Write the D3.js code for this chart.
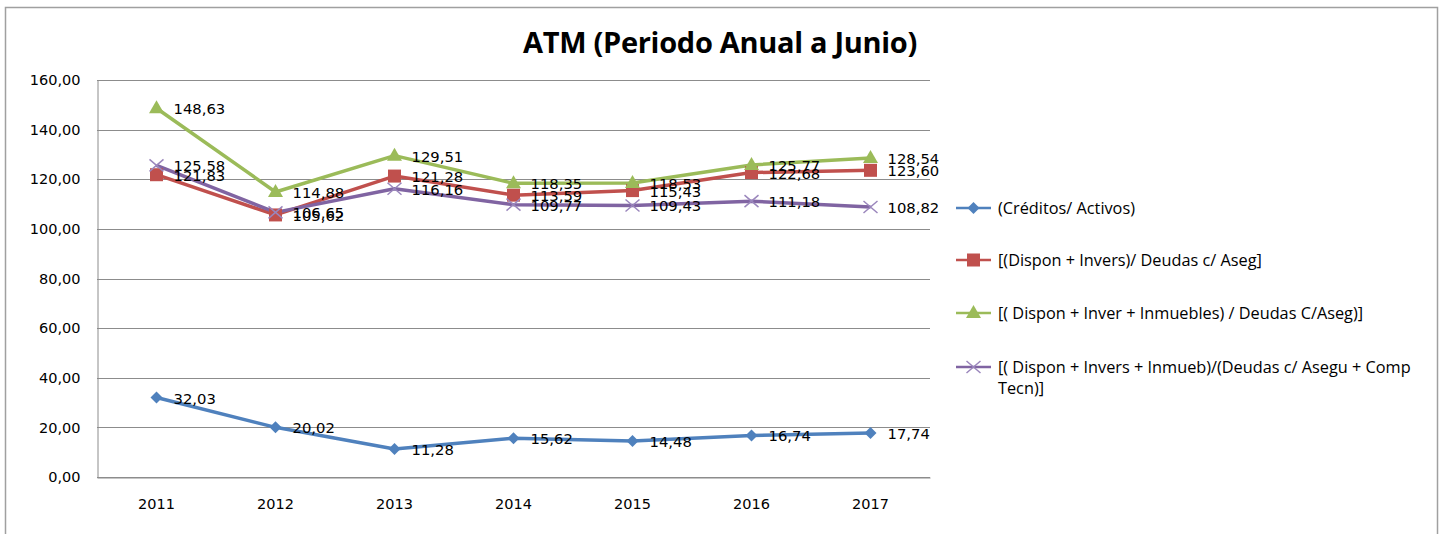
<!DOCTYPE html>
<html><head><meta charset="utf-8">
<script src="https://cdn.jsdelivr.net/npm/d3@7"></script>
<style>body{margin:0;background:#fff}</style>
</head><body>
<svg id="c" width="1447" height="534"></svg>
<script>
const years = ["2011","2012","2013","2014","2015","2016","2017"];
const creditos = [32.03, 20.02, 11.28, 15.62, 14.48, 16.74, 17.74];
const disponInvers = [121.83, 105.62, 121.28, 113.59, 115.43, 122.68, 123.60];
const disponInmuebles = [148.63, 114.88, 129.51, 118.35, 118.53, 125.77, 128.54];
const disponComp = [125.58, 106.65, 116.16, 109.77, 109.43, 111.18, 108.82];
const yTicks = [0,20,40,60,80,100,120,140,160];
const seriesNames = ["(Créditos/ Activos)", "[(Dispon + Invers)/ Deudas c/ Aseg]", "[( Dispon + Inver + Inmuebles) / Deudas C/Aseg)]", "[( Dispon + Invers + Inmueb)/(Deudas c/ Asegu + Comp|Tecn)]"];

const series = [
  {name: seriesNames[0], values: creditos, color:"#4F81BD", marker:"diamond"},
  {name: seriesNames[1], values: disponInvers, color:"#C0504D", marker:"square"},
  {name: seriesNames[2], values: disponInmuebles, color:"#9BBB59", marker:"triangle"},
  {name: seriesNames[3], values: disponComp, color:"#8064A2", marker:"x"}
];

const svg = d3.select("#c");
svg.append("rect").attr("x",5.5).attr("y",7.5).attr("width",1432).attr("height",540)
  .attr("fill","#fff").attr("stroke","#a0a0a0").attr("stroke-width",1.5);

svg.append("text").attr("x",720).attr("y",53).attr("text-anchor","middle")
  .attr("font-family","Open Sans, sans-serif").attr("font-weight","bold").attr("font-size",29)
  .attr("letter-spacing",-0.3)
  .attr("fill","#000").text("ATM (Periodo Anual a Junio)");

const L=97, R=930, T=80, B=477;
const x = d3.scaleBand().domain(years).range([L,R]);
const y = d3.scaleLinear().domain([0,160]).range([B,T]);
const cx = d => x(d)+x.bandwidth()/2;

// gridlines
svg.append("g").selectAll("line").data(yTicks).join("line")
  .attr("x1",L).attr("x2",R).attr("y1",d=>Math.round(y(d))+0.5).attr("y2",d=>Math.round(y(d))+0.5)
  .attr("stroke","#8c8c8c").attr("stroke-width",1);

// axes
const yAxis = svg.append("g").attr("transform",`translate(${L+0.5},0)`)
  .call(d3.axisLeft(y).tickValues(yTicks).tickSize(0).tickPadding(17)
    .tickFormat(d=>d3.format(".2f")(d).replace(".",",")));
yAxis.select(".domain").attr("stroke","#8c8c8c");
yAxis.selectAll("text").attr("font-family","DejaVu Sans, sans-serif").attr("font-size",14.5).attr("fill","#000");

const xAxis = svg.append("g").attr("transform",`translate(0,${B+0.5})`)
  .call(d3.axisBottom(x).tickSize(0).tickPadding(21));
xAxis.select(".domain").attr("stroke","#8c8c8c");
xAxis.selectAll("text").attr("font-family","DejaVu Sans, sans-serif").attr("font-size",14.5).attr("fill","#000");

function drawMarker(g, type, color, px, py){
  if(type==="diamond"){
    g.append("path").attr("d",`M${px},${py-6}L${px+6},${py}L${px},${py+6}L${px-6},${py}Z`).attr("fill",color);
  } else if(type==="square"){
    g.append("rect").attr("x",px-6.5).attr("y",py-6.5).attr("width",13).attr("height",13).attr("fill",color);
  } else if(type==="triangle"){
    g.append("path").attr("d",`M${px},${py-8}L${px+7.5},${py+5}L${px-7.5},${py+5}Z`).attr("fill",color);
  } else {
    g.append("path").attr("d",`M${px-7},${py-6}L${px+7},${py+6}M${px+7},${py-6}L${px-7},${py+6}`)
      .attr("stroke","#9a86bc").attr("stroke-width",1.5).attr("fill","none");
  }
}

const line = d3.line().x((d,i)=>cx(years[i])).y(d=>y(d));
series.forEach(s=>{
  svg.append("path").datum(s.values).attr("d",line).attr("fill","none")
    .attr("stroke",s.color).attr("stroke-width",3.5).attr("stroke-linejoin","round");
});
series.forEach(s=>{
  const g = svg.append("g");
  s.values.forEach((v,i)=>drawMarker(g,s.marker,s.color,cx(years[i]),y(v)));
});
series.forEach(s=>{
  svg.append("g").selectAll("text").data(s.values).join("text")
    .attr("x",(d,i)=>cx(years[i])+17).attr("y",d=>y(d)+6)
    .attr("font-family","DejaVu Sans, sans-serif").attr("font-size",14.8).attr("fill","#000")
    .text(d=>d3.format(".2f")(d).replace(".",","));
});

// legend
const legY = [208, 260, 313, 367];
series.forEach((s,i)=>{
  const g = svg.append("g");
  const ly = legY[i];
  g.append("line").attr("x1",956).attr("x2",991).attr("y1",ly).attr("y2",ly).attr("stroke",s.color).attr("stroke-width",2.5);
  drawMarker(g,s.marker,s.color,973.5,ly);
  const parts = s.name.split("|");
  const t = g.append("text").attr("x",998).attr("y",ly+5.5)
    .attr("font-family","Open Sans, sans-serif").attr("font-size",16.3).attr("fill","#000");
  parts.forEach((p,k)=>{
    t.append("tspan").attr("x",998).attr("dy",k===0?0:21).text(k===0 && parts.length>1 ? p+" " : p);
  });
});
</script>
</body></html>
